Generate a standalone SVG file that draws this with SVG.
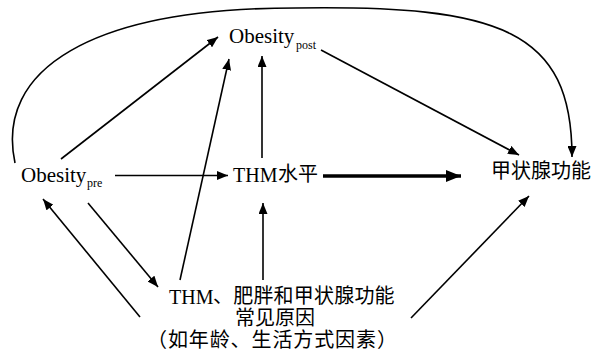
<svg xmlns="http://www.w3.org/2000/svg" width="596" height="352" viewBox="0 0 596 352">
<style>
.lat{font-family:"Liberation Serif","Times New Roman","DejaVu Serif",serif;fill:#000}
.cjk{font-family:"Noto Sans CJK SC","Noto Sans CJK JP",sans-serif;fill:#000}
.ln{stroke:#000;stroke-width:1.6;fill:none;marker-end:url(#ah)}
.thick{stroke:#000;stroke-width:3.6;fill:none;marker-end:url(#ahb)}
</style>
<defs>
<marker id="ah" markerUnits="userSpaceOnUse" markerWidth="11" markerHeight="9" refX="11" refY="4.5" orient="auto">
<path d="M0,0 L11,4.5 L0,9 z" fill="#000"/>
</marker>
<marker id="ahb" markerUnits="userSpaceOnUse" markerWidth="15" markerHeight="12" refX="15" refY="6" orient="auto">
<path d="M0,0 L15,6 L0,12 z" fill="#000"/>
</marker>
</defs>
<rect width="596" height="352" fill="#fff"/>
<g id="connectors">
<path class="ln" d="M15,163 C-5,70 90,8 296,8 C500,5 572,30 572,157"/>
<line class="ln" x1="61" y1="159" x2="218" y2="37"/>
<line class="ln" x1="180" y1="280" x2="229" y2="59"/>
<line class="ln" x1="262" y1="158" x2="262" y2="56"/>
<line class="ln" x1="321" y1="50" x2="519" y2="155"/>
<line class="ln" x1="115" y1="175.5" x2="228" y2="175.5"/>
<line class="thick" x1="323" y1="176" x2="461" y2="176"/>
<line class="ln" x1="88" y1="203" x2="158" y2="287"/>
<line class="ln" x1="140" y1="317" x2="43" y2="199"/>
<line class="ln" x1="263" y1="280" x2="263" y2="203"/>
<line class="ln" x1="411" y1="318" x2="529" y2="196"/>
</g>
<g id="obesity-post">
<text class="lat" x="229" y="43" font-size="21">Obesity<tspan x="296" y="49" font-size="12">post</tspan></text>
</g>
<g id="obesity-pre">
<text class="lat" x="21" y="182" font-size="21">Obesity<tspan x="87" y="187" font-size="12">pre</tspan></text>
</g>
<g id="thm-level">
<text class="lat" x="233" y="182" font-size="20">THM<tspan class="cjk" x="278" y="181">水平</tspan></text>
</g>
<g id="thyroid-function">
<text class="cjk" x="491" y="178" font-size="20">甲状腺功能</text>
</g>
<g id="common-causes">
<text class="cjk" font-size="20"><tspan class="lat" x="169" y="304">THM</tspan><tspan x="213" y="303" letter-spacing="0.2">、肥胖和甲状腺功能</tspan><tspan x="235" y="325">常见原因</tspan><tspan x="147" y="347" letter-spacing="0.9">（如年龄、生活方式因素）</tspan></text>
</g>
</svg>
